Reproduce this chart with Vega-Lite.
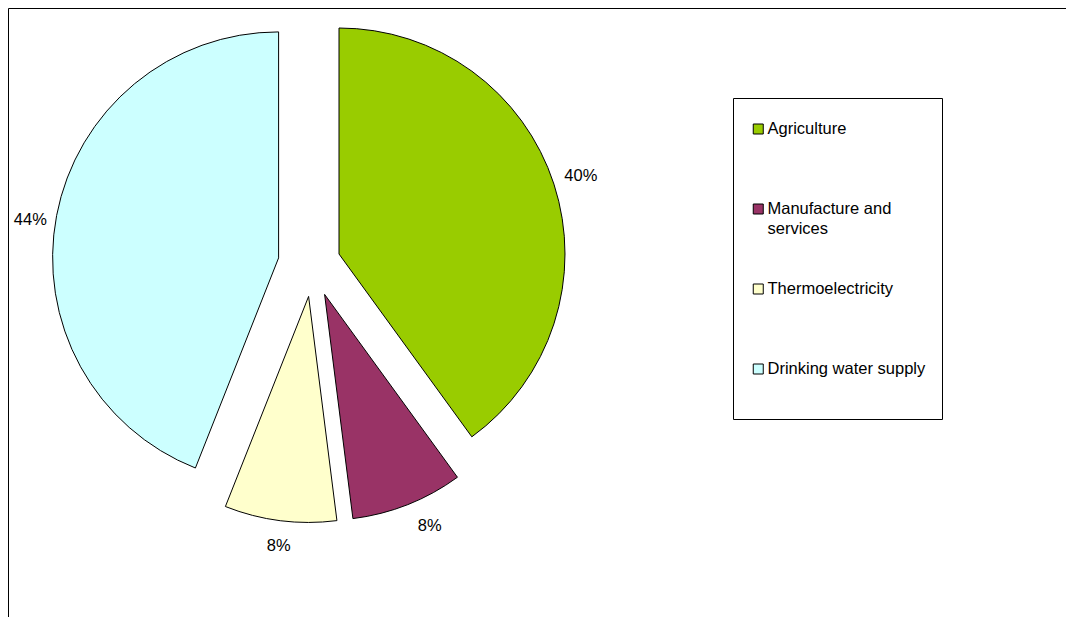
{
  "$schema": "https://vega.github.io/schema/vega-lite/v6.json",
  "width": 1058,
  "height": 609,
  "autosize": {"type": "none"},
  "padding": {"left": 8, "top": 8, "right": 0, "bottom": 0},
  "background": "white",
  "config": {"view": {"stroke": "black", "strokeWidth": 1}, "font": "Liberation Sans"},
  "data": {
    "values": [
      {"use": "Agriculture", "label": "40%", "t0": 0, "t1": 40, "ex": 30.4, "ey": -9.9, "lx": 272.2, "ly": -87.6},
      {"use": "Manufacture and services", "label": "8%", "t0": 40, "t1": 48, "ex": 16, "ey": 30.5, "lx": 121.1, "ly": 261.9},
      {"use": "Thermoelectricity", "label": "8%", "t0": 48, "t1": 56, "ex": 0, "ey": 32.5, "lx": -29.9, "ly": 281.9},
      {"use": "Drinking water supply", "label": "44%", "t0": 56, "t1": 100, "ex": -30, "ey": -6.0, "lx": -278.3, "ly": -43.7}
    ]
  },
  "layer": [
    {
      "mark": {"type": "arc", "radius": 226, "stroke": "black", "strokeWidth": 1},
      "encoding": {
        "theta": {"field": "t0", "type": "quantitative", "scale": {"domain": [0, 100]}},
        "theta2": {"field": "t1"},
        "x": {"field": "ex", "type": "quantitative", "scale": {"domain": [-300.6, 757.4], "nice": false, "zero": false}, "axis": null},
        "y": {"field": "ey", "type": "quantitative", "scale": {"domain": [-255.9, 353.1], "reverse": true, "nice": false, "zero": false}, "axis": null},
        "color": {
          "field": "use",
          "type": "nominal",
          "scale": {
            "domain": ["Agriculture", "Manufacture and services", "Thermoelectricity", "Drinking water supply"],
            "range": ["#99CC00", "#993366", "#FFFFCC", "#CCFFFF"]
          },
          "legend": {
            "orient": "none",
            "legendX": 725,
            "legendY": 90,
            "title": " ",
            "titleOrient": "bottom",
            "titleFontSize": 4,
            "titlePadding": 1,
            "strokeColor": "black",
            "fillColor": "white",
            "padding": 16,
            "symbolType": "square",
            "symbolSize": 100,
            "symbolStrokeColor": "black",
            "symbolStrokeWidth": 1,
            "symbolOffset": 1,
            "labelOffset": 1,
            "labelFont": "Liberation Sans",
            "labelFontSize": 16.5,
            "labelColor": "black",
            "labelLimit": 300,
            "labelBaseline": "middle",
            "clipHeight": 30,
            "rowPadding": 36,
            "labelExpr": "datum.label == 'Manufacture and services' ? ['Manufacture and', 'services'] : [datum.label, '']",
            "encode": {"labels": {"update": {"lineHeight": {"value": 20}}}}
          }
        }
      }
    },
    {
      "mark": {"type": "text", "fontSize": 16.5, "font": "Liberation Sans", "color": "black"},
      "encoding": {
        "x": {"field": "lx", "type": "quantitative", "scale": {"domain": [-300.6, 757.4], "nice": false, "zero": false}, "axis": null},
        "y": {"field": "ly", "type": "quantitative", "scale": {"domain": [-255.9, 353.1], "reverse": true, "nice": false, "zero": false}, "axis": null},
        "text": {"field": "label"}
      }
    }
  ]
}
